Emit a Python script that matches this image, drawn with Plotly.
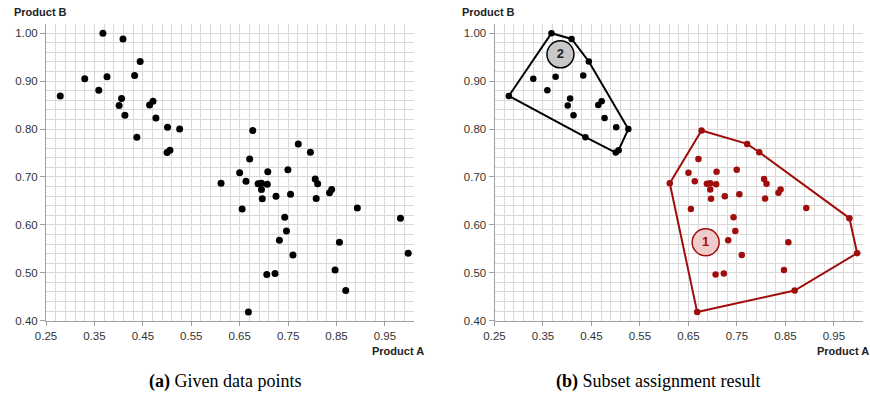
import plotly.graph_objects as go

# ---- data ----
# subset 2 (upper-left group)
g2_x = [0.2795, 0.330, 0.359, 0.3675, 0.376, 0.409, 0.401, 0.406, 0.413, 0.433,
        0.4376, 0.4445, 0.464, 0.471, 0.477, 0.501, 0.526, 0.500, 0.506]
g2_y = [0.869, 0.905, 0.881, 1.000, 0.909, 0.988, 0.849, 0.864, 0.829, 0.912,
        0.783, 0.941, 0.850, 0.858, 0.823, 0.804, 0.800, 0.751, 0.756]
# subset 1 (lower-right group)
g1_x = [0.677, 0.771, 0.796, 0.6706, 0.650, 0.708, 0.7496, 0.6115, 0.663, 0.688,
        0.695, 0.707, 0.695, 0.806, 0.811, 0.840, 0.8356, 0.725, 0.755, 0.6966,
        0.808, 0.655, 0.893, 0.982, 0.743, 0.7466, 0.732, 0.856, 0.998, 0.760,
        0.847, 0.706, 0.723, 0.869, 0.668]
g1_y = [0.797, 0.769, 0.7515, 0.7375, 0.709, 0.711, 0.7153, 0.687, 0.691, 0.686,
        0.687, 0.685, 0.674, 0.696, 0.686, 0.674, 0.667, 0.660, 0.664, 0.6548,
        0.655, 0.633, 0.6355, 0.614, 0.616, 0.587, 0.568, 0.564, 0.541, 0.537,
        0.506, 0.4965, 0.4986, 0.463, 0.418]
# convex hulls (closed)
hull2_x = [0.2795, 0.3675, 0.409, 0.4445, 0.526, 0.506, 0.500, 0.4376, 0.2795]
hull2_y = [0.869, 1.000, 0.988, 0.941, 0.800, 0.756, 0.751, 0.783, 0.869]
hull1_x = [0.6115, 0.677, 0.771, 0.796, 0.982, 0.998, 0.869, 0.668, 0.6115]
hull1_y = [0.687, 0.797, 0.769, 0.7515, 0.614, 0.541, 0.463, 0.418, 0.687]
# subset labels
label_names = ["1", "2"]
label_x = [0.6855, 0.386]
label_y = [0.5637, 0.956]

x_ticks = [0.25, 0.35, 0.45, 0.55, 0.65, 0.75, 0.85, 0.95]
y_ticks = [0.40, 0.50, 0.60, 0.70, 0.80, 0.90, 1.00]

RED = "#a00d0d"
GRID = "#d9d9d9"
FONT = "Liberation Sans, Arial, sans-serif"

fig = go.Figure()

# (a) all points
fig.add_trace(go.Scatter(x=g2_x + g1_x, y=g2_y + g1_y, mode="markers",
                         marker=dict(color="black", size=7), xaxis="x", yaxis="y",
                         showlegend=False, hoverinfo="skip"))

# (b) hulls and points
fig.add_trace(go.Scatter(x=hull2_x, y=hull2_y, mode="lines", line=dict(color="black", width=2),
                         xaxis="x2", yaxis="y2", showlegend=False, cliponaxis=False))
fig.add_trace(go.Scatter(x=hull1_x, y=hull1_y, mode="lines", line=dict(color=RED, width=2),
                         xaxis="x2", yaxis="y2", showlegend=False, cliponaxis=False))
fig.add_trace(go.Scatter(x=g2_x, y=g2_y, mode="markers", marker=dict(color="black", size=6.5),
                         xaxis="x2", yaxis="y2", showlegend=False, cliponaxis=False))
fig.add_trace(go.Scatter(x=g1_x, y=g1_y, mode="markers", marker=dict(color=RED, size=6.5),
                         xaxis="x2", yaxis="y2", showlegend=False, cliponaxis=False))
# subset label circles
fig.add_trace(go.Scatter(x=[label_x[1]], y=[label_y[1]], mode="markers+text", text=[label_names[1]],
                         textposition="middle center",
                         textfont=dict(family=FONT, size=13, color="#222222", weight="bold"),
                         marker=dict(size=27, color="#c8c8c8", line=dict(color="black", width=1.5)),
                         xaxis="x2", yaxis="y2", showlegend=False))
fig.add_trace(go.Scatter(x=[label_x[0]], y=[label_y[0]], mode="markers+text", text=[label_names[0]],
                         textposition="middle center",
                         textfont=dict(family=FONT, size=13, color=RED, weight="bold"),
                         marker=dict(size=27, color="#efcccc", line=dict(color=RED, width=1.5)),
                         xaxis="x2", yaxis="y2", showlegend=False))

def xaxis(domain, anchor):
    return dict(domain=domain, anchor=anchor, range=[0.25, 1.01], tickvals=x_ticks,
                ticktext=[f"{v:.2f}" for v in x_ticks], showgrid=True, gridcolor=GRID,
                gridwidth=1, minor=dict(tick0=0.25, dtick=0.02, showgrid=True, gridcolor=GRID,
                                        gridwidth=1),
                showline=True, linecolor="#a0a0a0", ticks="outside", ticklen=4,
                tickcolor="#a0a0a0", zeroline=False, automargin=False,
                tickfont=dict(family=FONT, size=11.5, color="#333333"))

def yaxis(domain, anchor):
    return dict(domain=domain, anchor=anchor, range=[0.40, 1.02], tickvals=y_ticks,
                ticktext=[f"{v:.2f}" for v in y_ticks], showgrid=True, gridcolor=GRID,
                gridwidth=1, minor=dict(tick0=0.40, dtick=0.02, showgrid=True, gridcolor=GRID,
                                        gridwidth=1),
                showline=True, linecolor="#a0a0a0", ticks="outside", ticklen=5,
                tickcolor="#a0a0a0", zeroline=False, automargin=False,
                tickfont=dict(family=FONT, size=11.5, color="#333333"))

ydom = [0.186, 0.940]
fig.update_layout(
    width=870, height=394, margin=dict(l=0, r=0, t=0, b=0),
    paper_bgcolor="white", plot_bgcolor="white",
    xaxis=xaxis([46 / 870, 414 / 870], "y"),
    yaxis=yaxis(ydom, "x"),
    xaxis2=xaxis([494.5 / 870, 863 / 870], "y2"),
    yaxis2=yaxis(ydom, "x2"),
)

ann = []
for x0 in [12, 460]:
    ann.append(dict(text="<b>Product B</b>", x=x0 / 870, y=1 - 12 / 394, xref="paper", yref="paper",
                    xanchor="left", yanchor="middle", showarrow=False,
                    font=dict(family=FONT, size=11, color="#222222")))
for x0 in [370, 815]:
    ann.append(dict(text="<b>Product A</b>", x=x0 / 870, y=1 - 351 / 394, xref="paper", yref="paper",
                    xanchor="left", yanchor="middle", showarrow=False,
                    font=dict(family=FONT, size=11, color="#222222")))
ann.append(dict(text="<b>(a)</b> Given data points", x=225 / 870, y=1 - 381 / 394, xref="paper",
                yref="paper", xanchor="center", yanchor="middle", showarrow=False,
                font=dict(family="Liberation Serif, Times New Roman, serif", size=18, color="black")))
ann.append(dict(text="<b>(b)</b> Subset assignment result", x=658 / 870, y=1 - 381 / 394,
                xref="paper", yref="paper", xanchor="center", yanchor="middle", showarrow=False,
                font=dict(family="Liberation Serif, Times New Roman, serif", size=18, color="black")))
fig.update_layout(annotations=ann)

fig.write_html("out.html", config={"displayModeBar": False},
               post_script="document.body.style.margin='0';document.body.style.overflow='hidden';")
